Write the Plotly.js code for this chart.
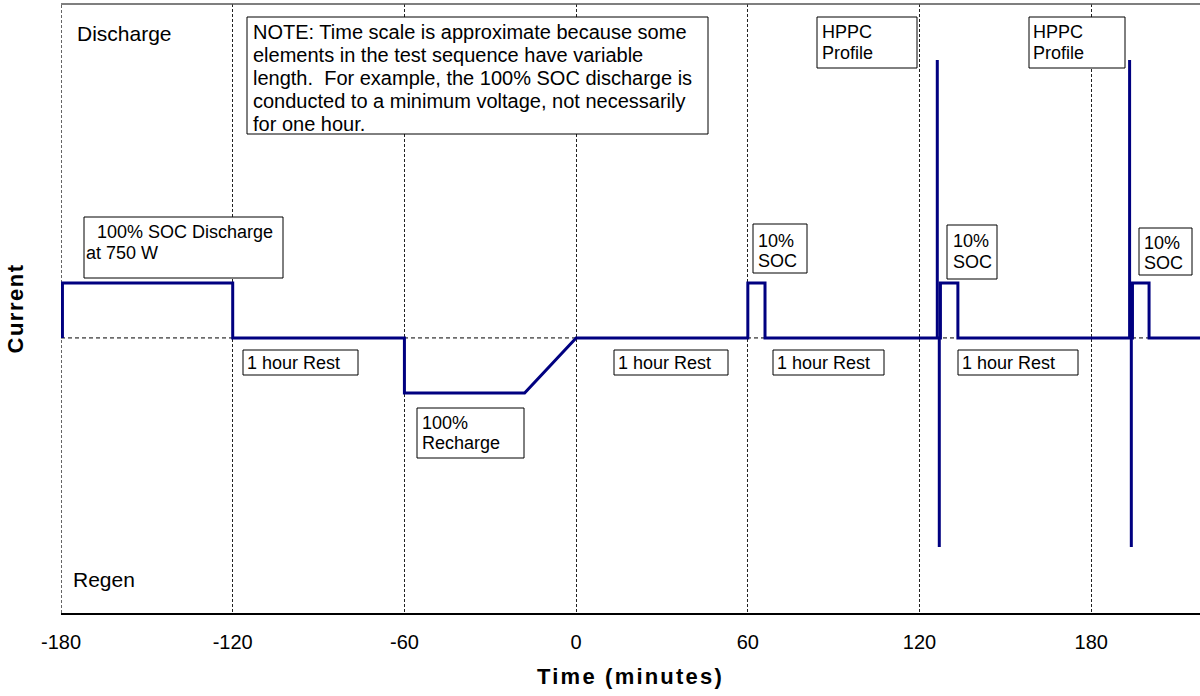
<!DOCTYPE html>
<html>
<head>
<meta charset="utf-8">
<script src="https://cdn.plot.ly/plotly-3.0.1.min.js"></script>
<style>html,body{margin:0;padding:0;background:#fff;}#chart{width:1200px;height:696px;}
.xtitle{letter-spacing:2.2px;} .ytitle{letter-spacing:1.5px;}</style>
</head>
<body>
<div id="chart"></div>
<script>
// ---- data ----
const timeMin = [-179.5,-179.5,-120,-120,-60,-60,-18,0,60,60,66,66,
  126.2,126.2,126.2,126.9,126.9,126.9,127.3,127.3,133.4,133.4,
  193.4,193.4,193.4,194.0,194.0,194.0,194.4,194.4,200.2,200.2,218];
const current = [0,1,1,0,0,-1,-1,0,0,1,1,0,
  0,5.05,0,0,-3.8,0,0,1,1,0,
  0,5.05,0,0,-3.8,0,0,1,1,0,0];
const tickVals = [-180,-120,-60,0,60,120,180];
const tickText = ['-180','-120','-60','0','60','120','180'];

// ---- text labels ----
const noteLines = ['NOTE: Time scale is approximate because some',
  'elements in the test sequence have variable',
  'length.  For example, the 100% SOC discharge is',
  'conducted to a minimum voltage, not necessarily',
  'for one hour.'];
const dischargeLines = [' 100% SOC Discharge', 'at 750 W'];
const rechargeLines = ['100%', 'Recharge'];
const socLines = ['10%', 'SOC'];
const hppcLines = ['HPPC', 'Profile'];
const restLines = ['1 hour Rest'];

// ---- label placement (pixels) ----
const FONT = 'Liberation Sans, Arial, sans-serif';
const labels = [
  {lines:noteLines, box:[247,17,708,134], x:[251], y0:31.7, dy:23, fs:20},
  {lines:dischargeLines, box:[84,217,283,278], x:[90,84], y0:231.7, dy:21.3, fs:18},
  {lines:restLines, box:[243,350,358,375], x:[245], y0:362.5, dy:21, fs:18},
  {lines:rechargeLines, box:[417,408,524,458], x:[420], y0:422.7, dy:20.5, fs:18},
  {lines:restLines, box:[614,350,728,375], x:[616], y0:362.5, dy:21, fs:18},
  {lines:socLines, box:[753,224,807,273], x:[756], y0:240.7, dy:20, fs:18},
  {lines:restLines, box:[773,350,884,375], x:[775], y0:362.5, dy:21, fs:18},
  {lines:hppcLines, box:[817,17,917,68], x:[820], y0:31.7, dy:21, fs:18},
  {lines:socLines, box:[947,225,997,279], x:[951], y0:240.7, dy:21, fs:18},
  {lines:restLines, box:[958,350,1078,375], x:[960], y0:362.5, dy:21, fs:18},
  {lines:hppcLines, box:[1029,17,1125,68], x:[1031], y0:31.7, dy:21, fs:18},
  {lines:socLines, box:[1139,228,1192,275], x:[1142], y0:242.7, dy:20, fs:18}
];

// plot area in pixels
const L = 61, R = 1200, T = 4, B = 613;
const fx = x => (x - L) / (R - L);
const fy = y => (B - y) / (B - T);

const shapes = [
  {type:'line', xref:'paper', yref:'y', x0:0, x1:1, y0:0, y1:0, layer:'below',
   line:{color:'#000', width:1, dash:'4px,3px'}},
  {type:'line', xref:'x', yref:'paper', x0:-180, x1:-180, y0:0, y1:1, layer:'below',
   line:{color:'#333', width:1.5, dash:'3px,2px'}},
  {type:'line', xref:'paper', yref:'paper', x0:0, x1:1, y0:1, y1:1,
   line:{color:'#555', width:1.5}}
];
function txt(s, x, y, fs){
  return {text:s, xref:'paper', yref:'paper', x:fx(x), y:fy(y), xanchor:'left', yanchor:'middle',
    align:'left', showarrow:false, font:{family:FONT, size:fs, color:'#000'}};
}
const annotations = [ txt('Discharge', 75, 33.3, 21), txt('Regen', 71, 579.3, 21) ];
labels.forEach(b => {
  const [x0,y0,x1,y1] = b.box;
  shapes.push({type:'rect', xref:'paper', yref:'paper', x0:fx(x0), x1:fx(x1), y0:fy(y0), y1:fy(y1),
    fillcolor:'#fff', line:{color:'#000', width:1}, layer:'above'});
  b.lines.forEach((s, i) => {
    const xx = b.x[Math.min(i, b.x.length-1)];
    annotations.push(txt(s, xx, b.y0 + i*b.dy, b.fs));
  });
});

const trace = {x: timeMin, y: current, type:'scatter', mode:'lines',
  line:{color:'#000080', width:3}, hoverinfo:'skip'};

const layout = {
  width:1200, height:696,
  margin:{l:L, r:0, t:T, b:696-B},
  paper_bgcolor:'#fff', plot_bgcolor:'#fff',
  showlegend:false,
  font:{family:FONT, size:18, color:'#000'},
  xaxis:{range:[-180,218], tickvals:tickVals, ticktext:tickText, ticks:'',
    showgrid:true, gridcolor:'#222', gridwidth:1, griddash:'3px,2px',
    zeroline:false, showline:true, linecolor:'#000', linewidth:1.5,
    ticklabelstandoff:10, tickfont:{family:FONT,size:20},
    title:{text:'<b>Time (minutes)</b>', font:{family:FONT,size:22}, standoff:17}},
  yaxis:{range:[-5,6.07], showticklabels:false, ticks:'', showgrid:false, zeroline:false, showline:false,
    title:{text:'<b>Current</b>', font:{family:FONT,size:22}, standoff:30}},
  shapes:shapes, annotations:annotations
};
Plotly.newPlot('chart', [trace], layout, {staticPlot:true, displayModeBar:false});
</script>
</body>
</html>
